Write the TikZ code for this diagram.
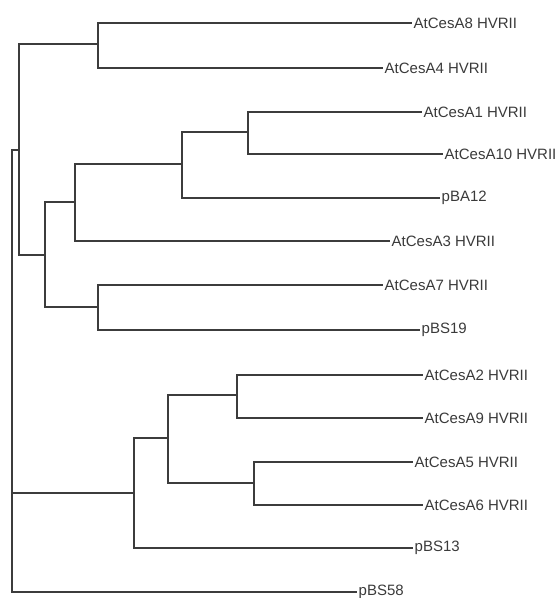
\documentclass[tikz,border=0pt]{standalone}
\usepackage{fontspec}
\setmainfont{Liberation Sans}
\definecolor{treeline}{HTML}{3C3C3C}
\definecolor{leaftext}{HTML}{3A3A3A}
\begin{document}
\begin{tikzpicture}[x=1pt,y=-1pt,
  leaf/.style={anchor=west,inner sep=1.5pt,text=leaftext,font=\fontsize{15}{18}\selectfont},
  branch/.style={draw=treeline,line width=1.3pt}]
\useasboundingbox (0,0) rectangle (558,598);
% leaves
\node[leaf] (A8)   at (412,23)  {AtCesA8 HVRII};
\node[leaf] (A4)   at (383,68)  {AtCesA4 HVRII};
\node[leaf] (A1)   at (422,112) {AtCesA1 HVRII};
\node[leaf] (A10)  at (443,154) {AtCesA10 HVRII};
\node[leaf] (BA12) at (440,198) {pBA12};
\node[leaf] (A3)   at (390,241) {AtCesA3 HVRII};
\node[leaf] (A7)   at (383,285) {AtCesA7 HVRII};
\node[leaf] (BS19) at (420,330) {pBS19};
\node[leaf] (A2)   at (423,375) {AtCesA2 HVRII};
\node[leaf] (A9)   at (423,418) {AtCesA9 HVRII};
\node[leaf] (A5)   at (413,462) {AtCesA5 HVRII};
\node[leaf] (A6)   at (423,505) {AtCesA6 HVRII};
\node[leaf] (BS13) at (413,548) {pBS13};
\node[leaf] (BS58) at (357,592) {pBS58};
% internal nodes
\coordinate (root) at (12,371);
\coordinate (u)   at (19,150);
\coordinate (c84) at (98,44);
\coordinate (m)   at (45,255);
\coordinate (k)   at (75,202);
\coordinate (j)   at (182,164);
\coordinate (i)   at (248,132);
\coordinate (c7)  at (98,307);
\coordinate (l)   at (134,493);
\coordinate (g)   at (168,438);
\coordinate (f1)  at (237,395);
\coordinate (f2)  at (254,483);
% branches
\path[branch] (root) |- (u);
\path[branch] (root) |- (l);
\path[branch] (root) |- (BS58.west);
\path[branch] (u) |- (c84);
\path[branch] (u) |- (m);
\path[branch] (c84) |- (A8.west);
\path[branch] (c84) |- (A4.west);
\path[branch] (m) |- (k);
\path[branch] (m) |- (c7);
\path[branch] (k) |- (j);
\path[branch] (k) |- (A3.west);
\path[branch] (j) |- (i);
\path[branch] (j) |- (BA12.west);
\path[branch] (i) |- (A1.west);
\path[branch] (i) |- (A10.west);
\path[branch] (c7) |- (A7.west);
\path[branch] (c7) |- (BS19.west);
\path[branch] (l) |- (g);
\path[branch] (l) |- (BS13.west);
\path[branch] (g) |- (f1);
\path[branch] (g) |- (f2);
\path[branch] (f1) |- (A2.west);
\path[branch] (f1) |- (A9.west);
\path[branch] (f2) |- (A5.west);
\path[branch] (f2) |- (A6.west);
\end{tikzpicture}
\end{document}
